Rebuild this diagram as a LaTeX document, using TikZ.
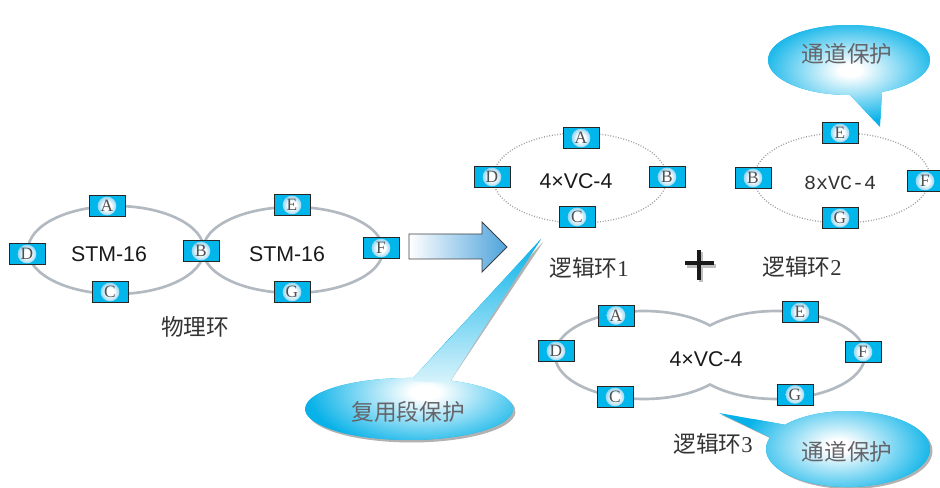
\documentclass[tikz,border=0pt]{standalone}
\usepackage{fontspec}
\setmainfont{Liberation Serif}
\newfontfamily\cjk{Noto Sans CJK SC}
\newfontfamily\arialf{Liberation Sans}
\newfontfamily\monof{Liberation Mono}
\definecolor{boxcyan}{RGB}{0,182,235}
\definecolor{ringgray}{RGB}{178,185,192}
\definecolor{dotgray}{RGB}{160,160,160}
\definecolor{bubcyan}{RGB}{8,178,232}
\definecolor{arrowblue}{RGB}{78,163,220}
\definecolor{circblue}{RGB}{150,215,242}
\definecolor{lettergray}{RGB}{80,80,80}
\definecolor{bubtext}{RGB}{100,100,105}
\pgfdeclareradialshading{bubshade}{\pgfpoint{0bp}{0bp}}{color(0bp)=(white); color(3bp)=(white); color(25bp)=(bubcyan); color(50bp)=(bubcyan)}
\pgfdeclareradialshading{circshade}{\pgfpoint{0bp}{0bp}}{color(0bp)=(white); color(11bp)=(white); color(25bp)=(circblue); color(50bp)=(circblue)}
\newcommand\nebox[3]{\node[nbox] (#1) at (#2) {}; \node[ncirc] at (#1) {#3};}
\begin{document}
\begin{tikzpicture}[x=0.75pt,y=0.75pt,yscale=-1,
  nbox/.style={rectangle,draw=black!85,line width=0.7pt,fill=boxcyan,minimum width=27pt,minimum height=15.75pt,inner sep=0pt},
  ncirc/.style={circle,shade,shading=circshade,minimum size=14pt,inner sep=0pt,font=\fontsize{13}{13}\selectfont,text=lettergray},
  ring/.style={draw=ringgray,line width=2pt},
  dring/.style={draw=dotgray,line width=1pt,dash pattern=on 0.7pt off 1.3pt},
  ringtxt/.style={font=\arialf\fontsize{16}{16}\selectfont,text=black!90},
  monotxt/.style={font=\monof\fontsize{15}{15}\selectfont,text=black!80},
  cjklbl/.style={font=\cjk\fontsize{17}{17}\selectfont,text=black!80},
  bubtxt/.style={font=\cjk\fontsize{17}{17}\selectfont,text=bubtext},
  bshadow/.style={fill=black!30}
]
\useasboundingbox (0,0) rectangle (940,488);

% ---------- physical ring ----------
\draw[ring] (116,250) ellipse [x radius=88, y radius=44];
\draw[ring] (293,250) ellipse [x radius=90, y radius=43];
\nebox{pA}{107,206}{A}
\nebox{pD}{27,254}{D}
\nebox{pC}{110,292}{C}
\nebox{pB}{201,251}{B}
\nebox{pE}{292,205}{E}
\nebox{pF}{381,248}{F}
\nebox{pG}{292,292}{G}
\node[ringtxt] (stm1) at (109,254) {STM-16};
\node[ringtxt] (stm2) at (287,254) {STM-16};
\node[cjklbl] (phys) at (195,327) {物理环};

% ---------- block arrow ----------
\draw[draw=black!75,line width=0.6pt,left color=white,right color=arrowblue]
  (409,234) -- (482,234) -- (482,222) -- (507,247) -- (482,272) -- (482,259) -- (409,259) -- cycle;

% ---------- logical ring 1 ----------
\draw[dring] (580,178) ellipse [x radius=87, y radius=45];
\nebox{aA}{581,138}{A}
\nebox{aD}{492,177}{D}
\nebox{aB}{667,177}{B}
\nebox{aC}{577,217}{C}
\node[ringtxt] (vc1) at (576,181) {4×VC-4};
\node[cjklbl] (lr1) at (589,268) {逻辑环{\rmfamily 1}};

% ---------- plus ----------
\draw[black!25,line width=2.4pt] (687,266) -- (716,266) (701,252) -- (701,282);
\draw[black!90,line width=2.4pt] (685,263) -- (714,263) (699,250) -- (699,280);

% ---------- logical ring 2 ----------
\draw[dring] (842,178) ellipse [x radius=88, y radius=45];
\nebox{bE}{840,133}{E}
\nebox{bB}{753,178}{B}
\nebox{bF}{925,181}{F}
\nebox{bG}{840,218}{G}
\node[monotxt] (vc2) at (840,183) {8xVC-4};
\node[cjklbl] (lr2) at (802,267) {逻辑环{\rmfamily 2}};

% ---------- logical ring 3 ----------
\draw[ring] (710,384.5) arc[start angle=42.1, end angle=317.9, x radius=89, y radius=44]
  arc[start angle=222.1, end angle=497.9, x radius=89, y radius=44] -- cycle;
\nebox{cA}{616,315.5}{A}
\nebox{cE}{800,312}{E}
\nebox{cD}{556,351}{D}
\nebox{cF}{863,352}{F}
\nebox{cC}{615,397}{C}
\nebox{cG}{795,394.5}{G}
\node[ringtxt] (vc3) at (706,359.5) {4×VC-4};
\node[cjklbl] (lr3) at (713,444) {逻辑环{\rmfamily 3}};

% ---------- bubble: multiplex section protection ----------
\fill[bshadow,shift={(2.5,2.5)}] (447,380.1) -- (541,239) -- (413,378)
  arc[start angle=272.2, end angle=-68.6, x radius=104, y radius=31] -- cycle;
\begin{scope}
\clip (447,380.1) -- (541,239) -- (413,378)
  arc[start angle=272.2, end angle=-68.6, x radius=104, y radius=31] -- cycle;
\fill[bubcyan] (300,230) rectangle (550,445);
\shade[shading=bubshade] (425,392) ellipse [x radius=118, y radius=58];
\end{scope}
\begin{scope}
\clip (449,383) -- (541,239) -- (411,381) -- cycle;
\shade[top color=bubcyan, bottom color=white!85!bubcyan] (405,239) rectangle (545,384);
\end{scope}
\node[bubtxt] (msp) at (408,412) {复用段保护};

% ---------- bubble: path protection (top) ----------
\begin{scope}
\clip (882,92) -- (880,127) -- (850,95)
  arc[start angle=89.3, end angle=426, x radius=81, y radius=35] -- cycle;
\fill[bubcyan] (760,20) rectangle (935,130);
\shade[shading=bubshade] (850,70) ellipse [x radius=92, y radius=52];
\end{scope}
\node[bubtxt] (pp1) at (847,54) {通道保护};

% ---------- bubble: path protection (bottom) ----------
\fill[bshadow,shift={(2.5,2)}] (770,437.3) -- (719,413) -- (785,424.7)
  arc[start angle=219.8, end angle=558, x radius=82, y radius=38] -- cycle;
\begin{scope}
\clip (770,437.3) -- (719,413) -- (785,424.7)
  arc[start angle=219.8, end angle=558, x radius=82, y radius=38] -- cycle;
\fill[bubcyan] (715,405) rectangle (935,490);
\shade[shading=bubshade] (838,446) ellipse [x radius=98, y radius=55];
\end{scope}
\node[bubtxt] (pp2) at (847,452) {通道保护};
\end{tikzpicture}
\end{document}
